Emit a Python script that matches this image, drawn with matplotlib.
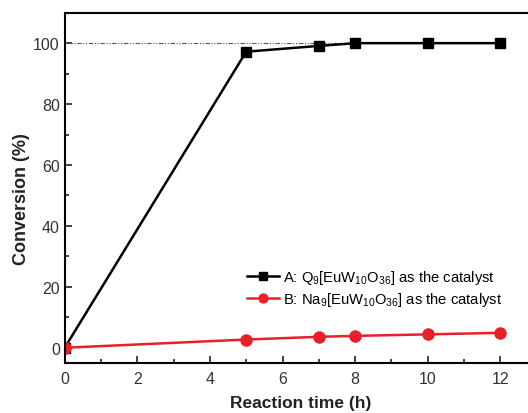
import matplotlib
matplotlib.use("Agg")
import matplotlib.pyplot as plt
from matplotlib.ticker import MultipleLocator

plt.rcParams['font.family'] = ['Liberation Sans', 'DejaVu Sans']
plt.rcParams['mathtext.fontset'] = 'custom'
plt.rcParams['mathtext.rm'] = 'Liberation Sans'
plt.rcParams['mathtext.it'] = 'Liberation Sans'

time_h = [0, 5, 7, 8, 10, 12]
conv_A = [0, 97.2, 99.1, 100, 100, 100]
conv_B = [0, 2.7, 3.6, 3.9, 4.4, 4.9]
label_A = r'A: Q$_9$[EuW$_{10}$O$_{36}$] as the catalyst'
label_B = r'B: Na$_9$[EuW$_{10}$O$_{36}$] as the catalyst'

fig = plt.figure(figsize=(5.28, 4.14), dpi=100)
ax = fig.add_axes([64.7/528, (414-364)/414, (536.6-64.7)/528, (364-13.7)/414])

ax.hlines(100, 0, 8, colors='#555555', linestyles=(0, (4, 1.5, 1, 1.5, 1, 1.5)), linewidth=0.8)
ax.plot(time_h, conv_A, '-', color='black', marker='s', markersize=7, linewidth=1.8, label=label_A)
ax.plot(time_h, conv_B, '-', color='#e8202a', marker='o', markersize=8, linewidth=1.8, label=label_B)

ax.set_xlim(0, 13)
ax.set_ylim(-5, 110)
ax.xaxis.set_major_locator(MultipleLocator(2))
ax.xaxis.set_minor_locator(MultipleLocator(1))
ax.yaxis.set_major_locator(MultipleLocator(20))
ax.yaxis.set_minor_locator(MultipleLocator(10))
ax.tick_params(which='both', direction='in', top=False, right=False, width=1.2, labelsize=11.5, colors='#222222', labelcolor='#333333')
ax.tick_params(which='major', length=5)
ax.tick_params(which='minor', length=3)
ax.tick_params(axis='x', pad=6)
for s in ax.spines.values():
    s.set_linewidth(1.5)

ax.set_xlabel('Reaction time (h)', fontsize=12.5, fontweight='bold', color='#222222', labelpad=6)
ax.set_ylabel('Conversion (%)', fontsize=13, fontweight='bold', color='#222222')
ax.yaxis.set_label_coords(-0.0735, 0.471)

leg = ax.legend(loc='lower left', bbox_to_anchor=(0.37, 0.135), frameon=False, fontsize=10.6,
                handlelength=2.2, handletextpad=0.3, labelspacing=0.3, borderpad=0, markerscale=0.8)

fig.savefig('out.png', dpi=100)
